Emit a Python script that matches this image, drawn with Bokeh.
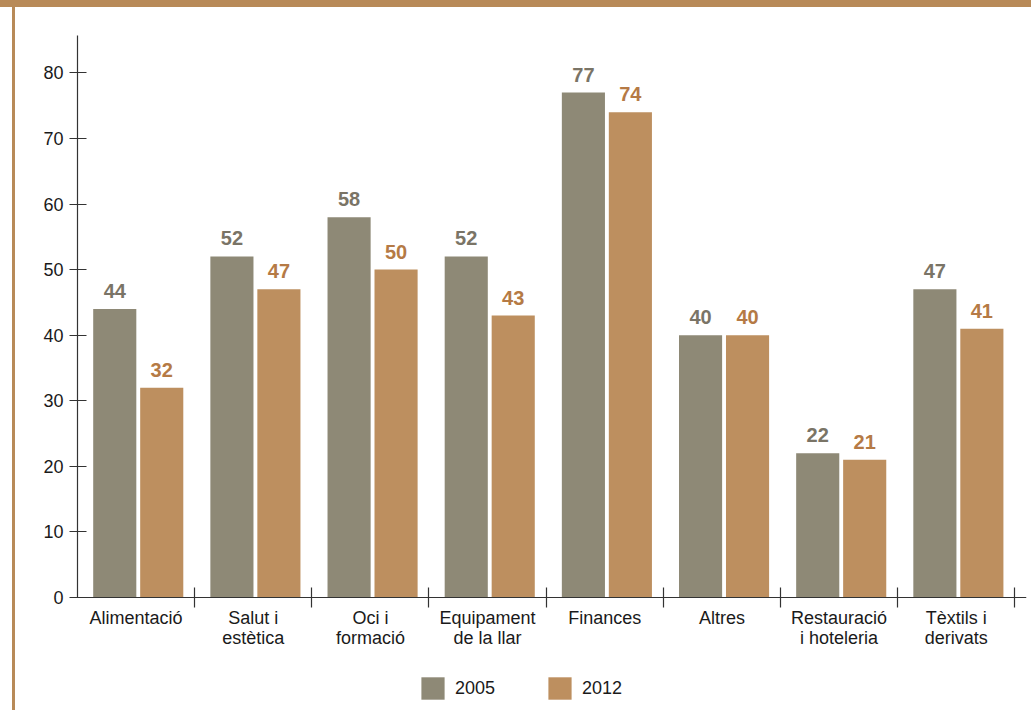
from bokeh.plotting import figure
from bokeh.models import (ColumnDataSource, Range1d, FixedTicker, Legend, LegendItem, LabelSet)
from bokeh.core.properties import value
from bokeh.transform import dodge
from bokeh.embed import file_html
from bokeh.resources import INLINE

categories = ["Alimentació", "Salut i\nestètica", "Oci i\nformació", "Equipament\nde la llar",
              "Finances", "Altres", "Restauració\ni hoteleria", "Tèxtils i\nderivats"]
v2005 = [44, 52, 58, 52, 77, 40, 22, 47]
v2012 = [32, 47, 50, 43, 74, 40, 21, 41]
y_ticks = [0, 10, 20, 30, 40, 50, 60, 70, 80]
series = ["2005", "2012"]

C2005, C2012 = "#8e8976", "#bd8f5f"
L2005, L2012 = "#7a7466", "#b57a45"
FONT = "Liberation Sans"
BRD = "#b88a58"
OFF2005, OFF2012 = -0.182, 0.219

pos = [i + 0.5 for i in range(len(categories))]
src = ColumnDataSource(dict(pos=pos, cat=categories, v2005=v2005, v2012=v2012,
                            t2005=[str(v) for v in v2005], t2012=[str(v) for v in v2012]))

p = figure(width=1031, height=710, x_range=Range1d(0, 8.1), y_range=Range1d(-17.23, 85.7),
           output_backend="svg", toolbar_location=None,
           min_border_left=77, min_border_top=35, min_border_right=5, min_border_bottom=0)
p.outline_line_color = None
p.grid.grid_line_color = None
p.background_fill_color = "white"
p.border_fill_alpha = 0
p.styles = {"background": (f"linear-gradient({BRD},{BRD}) 0px 0px / 100% 7px no-repeat, "
                           f"linear-gradient({BRD},{BRD}) 12px 0px / 3px 100% no-repeat, white")}
p.background_fill_alpha = 0

r1 = p.vbar(x=dodge("pos", OFF2005, range=p.x_range), top="v2005", width=0.368, source=src,
            color=C2005, line_color=None)
r2 = p.vbar(x=dodge("pos", OFF2012, range=p.x_range), top="v2012", width=0.368, source=src,
            color=C2012, line_color=None)

for col, top, off, colr in (("t2005", "v2005", OFF2005, L2005), ("t2012", "v2012", OFF2012, L2012)):
    lab = LabelSet(x=dodge("pos", off, range=p.x_range), y=top, text=col, source=src,
                   text_align="center", text_baseline="alphabetic", y_offset=11,
                   text_font=value(FONT), text_font_size="20px", text_font_style="bold",
                   text_color=colr)
    p.add_layout(lab)

# x axis (placed at y = 0 inside the frame)
xa = p.xaxis[0]
xa.fixed_location = 0
xa.ticker = FixedTicker(ticks=pos, minor_ticks=[float(i) for i in range(1, len(categories) + 1)])
xa.major_label_overrides = {pp: c for pp, c in zip(pos, categories)}
xa.major_tick_in = 0
xa.major_tick_out = 0
xa.minor_tick_in = 10
xa.minor_tick_out = 10
xa.minor_tick_line_color = "#333333"
xa.minor_tick_line_width = 1.2
xa.axis_line_color = "#333333"
xa.axis_line_width = 1.2
xa.major_label_standoff = 0
xa.major_label_text_font = FONT
xa.major_label_text_font_size = "18px"
xa.major_label_text_color = "#1a1a1a"
xa.major_label_text_line_height = 1.0

# y axis
ya = p.yaxis[0]
ya.bounds = (0, 85.7)
ya.ticker = FixedTicker(ticks=y_ticks, minor_ticks=[])
ya.major_tick_in = 9
ya.major_tick_out = 8
ya.major_tick_line_color = "#333333"
ya.major_tick_line_width = 1.2
ya.axis_line_color = "#333333"
ya.axis_line_width = 1.2
ya.minor_tick_line_color = None
ya.major_label_standoff = 6
ya.major_label_text_font = FONT
ya.major_label_text_font_size = "18px"
ya.major_label_text_color = "#1a1a1a"

legend = Legend(items=[LegendItem(label=series[0], renderers=[r1]),
                       LegendItem(label=series[1], renderers=[r2])],
                orientation="horizontal", location=(341, 8),
                glyph_width=29, glyph_height=28, label_text_font=FONT,
                label_text_font_size="18px", label_standoff=8, spacing=50,
                border_line_color=None, background_fill_alpha=0,
                padding=0, margin=0, label_text_color="#1a1a1a")
p.add_layout(legend)

open("out.html", "w").write(file_html(p, INLINE))
